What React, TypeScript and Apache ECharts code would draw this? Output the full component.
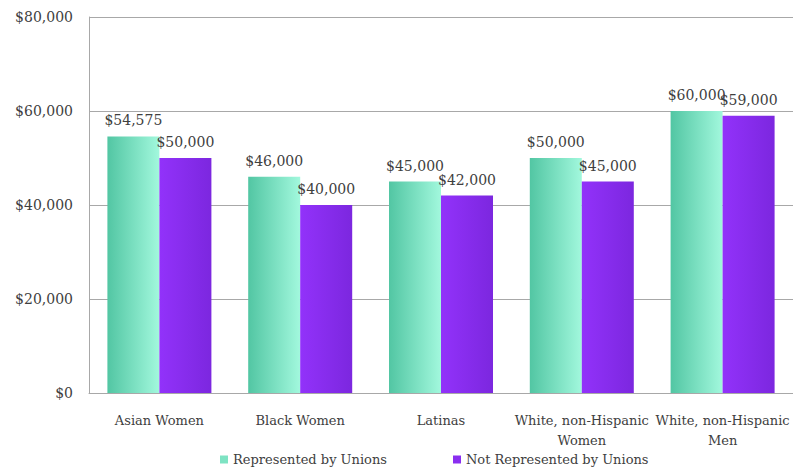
import React, { useEffect, useRef } from "react";
import * as echarts from "echarts";

const categories = [
  "Asian Women",
  "Black Women",
  "Latinas",
  "White, non-Hispanic\nWomen",
  "White, non-Hispanic\nMen",
];
const seriesNames = ["Represented by Unions", "Not Represented by Unions"];
const represented = [54575, 46000, 45000, 50000, 60000];
const notRepresented = [50000, 40000, 42000, 45000, 59000];

const FONT = "DejaVu Serif";
const fmt = (v: number) => "$" + v.toLocaleString("en-US");

export default function App() {
  const ref = useRef<HTMLDivElement>(null);
  useEffect(() => {
    document.body.style.margin = "0";
    const chart = echarts.init(ref.current!, null, { renderer: "svg" });
    const teal = new echarts.graphic.LinearGradient(0, 0, 1, 0, [
      { offset: 0, color: "#52c6a3" },
      { offset: 1, color: "#a2f8dd" },
    ]);
    const purple = new echarts.graphic.LinearGradient(0, 0, 1, 0, [
      { offset: 0, color: "#9232fa" },
      { offset: 1, color: "#7c27df" },
    ]);
    const label = {
      show: true,
      position: "top" as const,
      distance: 9,
      fontFamily: FONT,
      fontSize: 14,
      color: "#404040",
      formatter: (p: any) => fmt(p.value),
    };
    chart.setOption({
      animation: false,
      textStyle: { fontFamily: FONT },
      grid: { left: 89, top: 17, width: 710, height: 376, containLabel: false },
      legend: {
        left: 220,
        top: 453,
        padding: 0,
        itemWidth: 8,
        itemHeight: 8,
        itemGap: 66,
        icon: "rect",
        formatter: "{t|{name}}",
        textStyle: {
          fontFamily: FONT,
          fontSize: 13,
          color: "#404040",
          rich: { t: { fontFamily: FONT, fontSize: 13, color: "#404040" } },
        },
        data: [
          { name: seriesNames[0], itemStyle: { color: "#7ee3c3" } },
          { name: seriesNames[1], itemStyle: { color: "#8a2ef0" } },
        ],
      },
      xAxis: {
        type: "category",
        data: categories,
        axisTick: { show: false },
        axisLine: { lineStyle: { color: "#a8a8a8", width: 1 } },
        axisLabel: {
          interval: 0,
          margin: 17,
          fontFamily: FONT,
          fontSize: 13,
          lineHeight: 20,
          color: "#404040",
        },
      },
      yAxis: {
        type: "value",
        min: 0,
        max: 80000,
        interval: 20000,
        axisLine: { show: true, lineStyle: { color: "#a8a8a8", width: 1 } },
        axisTick: { show: false },
        splitLine: { lineStyle: { color: "#a8a8a8", width: 1 } },
        axisLabel: {
          margin: 16,
          fontFamily: FONT,
          fontSize: 14,
          color: "#404040",
          formatter: (v: number) => fmt(v),
        },
      },
      series: [
        {
          name: seriesNames[0],
          type: "bar",
          data: represented,
          barWidth: 52,
          barGap: "0%",
          itemStyle: { color: teal },
          label,
        },
        {
          name: seriesNames[1],
          type: "bar",
          data: notRepresented,
          barWidth: 52,
          barGap: "0%",
          itemStyle: { color: purple },
          label,
        },
      ],
    });
    return () => chart.dispose();
  }, []);
  return <div ref={ref} style={{ width: 793, height: 470 }} />;
}
